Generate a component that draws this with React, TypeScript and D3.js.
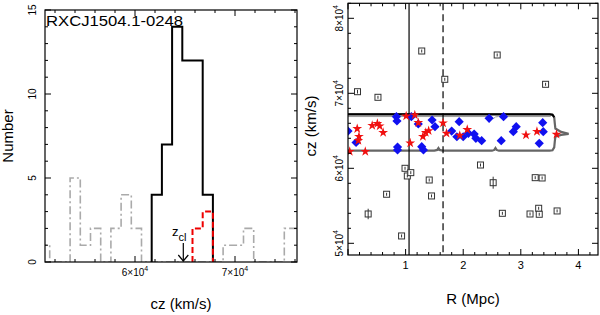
import React from 'react';
import * as d3 from 'd3';

// ---- left panel: velocity histograms ----
const binStart = 50450;
const binWidth = 1020;
const fieldCounts = [1, 0, 0, 5, 1, 2, 0, 2, 4, 2, 0, 0, 0, 0, 0, 0, 0, 0, 1, 1, 2, 0, 0, 0, 2, 2];
const memberFirstBin = 11;
const memberCounts = [4, 7, 14, 12, 12, 4];
const subFirstBin = 15;
const subCounts = [2, 3];
const zcl = 64830;
const histXMajor = [60000, 70000];
const histYMajor = [0, 5, 10, 15];

// ---- right panel: phase space ----
const blueR = [0.0, 0.14, 0.84, 0.85, 0.86, 0.86, 1.10, 1.22, 1.28, 1.31, 1.46, 1.51, 1.93, 1.80, 1.89, 2.00, 2.09, 2.19, 2.22, 2.32, 2.45, 2.70, 2.66, 2.87, 2.92, 3.32, 3.38, 3.39];
const blueCz = [64970, 63440, 66880, 66310, 62840, 62440, 66880, 65910, 62880, 62440, 66440, 65550, 66220, 64970, 64210, 64210, 64670, 64570, 64000, 63680, 66670, 66880, 63680, 64880, 65550, 63330, 66080, 64880];
const redR = [0.03, 0.30, 0.16, 0.19, 0.18, 0.42, 0.51, 0.55, 0.61, 1.01, 1.16, 1.22, 1.08, 1.30, 1.35, 1.40, 1.65, 1.71, 1.94, 2.07, 3.09, 3.28, 3.62];
const redCz = [62240, 62240, 65280, 64240, 63710, 65710, 65970, 65640, 64770, 66970, 67110, 66080, 63370, 64240, 64770, 65010, 66040, 64670, 64400, 65170, 64440, 64910, 64530];
const outR = [0.165, 0.52, 1.28, 1.68, 2.59, 3.43, 0.99, 1.03, 1.09, 1.41, 1.45, 0.67, 0.35, 0.93, 2.30, 2.52, 2.68, 3.16, 3.25, 3.37, 3.31, 3.32, 3.63];
const outCz = [70213, 69467, 75640, 71867, 75107, 71200, 60000, 58978, 59420, 58440, 56313, 56540, 53910, 50980, 60440, 58080, 54000, 53910, 58750, 58710, 54670, 53870, 54313];
const outErr = [250, 200, 200, 200, 200, 200, 200, 200, 200, 200, 200, 200, 700, 200, 200, 800, 200, 200, 200, 200, 200, 200, 200];

const causticR = [0, 1.50, 1.55, 1.57, 1.59, 1.64, 2.50, 2.54, 2.56, 2.58, 2.62, 3.50, 3.55, 3.58, 3.59, 3.60, 3.70, 3.83];
const causticUp = [67200, 67200, 67200, 67200, 67200, 67200, 67200, 67200, 67200, 67200, 67200, 67200, 67150, 66800, 66000, 65300, 64850, 64600];
const causticLow = [62350, 62350, 62450, 62700, 62450, 62350, 62350, 62450, 62700, 62450, 62350, 62350, 62400, 62800, 63600, 64200, 64450, 64600];
const innerR = [0, 2.45, 2.50, 2.53, 2.56, 2.61, 3.52];
const innerCz = [66900, 66900, 66850, 66650, 66850, 66900, 66900];
const rSolid = 1.06;
const rDashed = 1.65;
const phaseXMajor = [0, 1, 2, 3, 4];
const phaseYMajor = [50000, 60000, 70000, 80000];

const font = 'Liberation Sans, Arial, sans-serif';

const App = () => {
  // left panel scales
  const hx = d3.scaleLinear().domain([51000, 76200]).range([45, 297]);
  const hy = d3.scaleLinear().domain([0, 15]).range([262, 10]);
  // right panel scales
  const px = d3.scaleLinear().domain([0, 4.34]).range([348, 598]);
  const py = d3.scaleLinear().domain([48440, 82000]).range([255, 3.3]);

  const stepPath = (first: number, counts: number[]) => {
    const pts: [number, number][] = [[binStart + first * binWidth, 0]];
    counts.forEach((c, i) => {
      const lo = binStart + (first + i) * binWidth;
      pts.push([lo, c]);
      pts.push([lo + binWidth, c]);
    });
    pts.push([binStart + (first + counts.length) * binWidth, 0]);
    return d3.line<[number, number]>().x(d => hx(d[0])).y(d => hy(d[1]))(pts) || '';
  };

  const hxMinor = d3.range(52000, 76201, 2000);
  const hyMinor = d3.range(0, 16, 1);
  const pxMinor = d3.range(0, 4.35, 0.2);
  const pyMinor = d3.range(50000, 82001, 2000);

  const causticPts = causticR.map((r, i) => [r, causticUp[i]] as [number, number])
    .concat(causticR.map((r, i) => [r, causticLow[i]] as [number, number]).reverse());
  const pLine = d3.line<[number, number]>().x(d => px(d[0])).y(d => py(d[1]));
  const upperBlack = pLine(causticR.slice(0, 14).map((r, i) => [r, causticUp[i]]));
  const innerLine = pLine(innerR.map((r, i) => [r, innerCz[i]]));

  const star = d3.symbol(d3.symbolStar, 30)() || '';
  const diamond = 'M0,-4.6L4.6,0L0,4.6L-4.6,0Z';

  return (
    <svg width={600} height={315} style={{ position: 'absolute', left: 0, top: 0, background: '#fff' }} fontFamily={font}>
      <defs>
        <clipPath id="hclip"><rect x={45} y={10} width={252} height={252} /></clipPath>
        <clipPath id="pclip"><rect x={348} y={3.3} width={250} height={251.7} /></clipPath>
      </defs>

      {/* ===== left panel ===== */}
      <g clipPath="url(#hclip)">
        <path d={stepPath(0, fieldCounts)} fill="none" stroke="#aaa" strokeWidth={1.6} strokeDasharray="8,3,2,3" />
        <path d={stepPath(memberFirstBin, memberCounts)} fill="none" stroke="#000" strokeWidth={2} />
        <path d={stepPath(subFirstBin, subCounts)} fill="none" stroke="#e00" strokeWidth={2} strokeDasharray="6,3" />
      </g>
      <rect x={45} y={10} width={252} height={252} fill="none" stroke="#000" strokeWidth={1.2} />
      {hxMinor.map(v => (
        <g key={'hxm' + v} stroke="#000" strokeWidth={1}>
          <line x1={hx(v)} x2={hx(v)} y1={262} y2={histXMajor.includes(v) ? 256 : 259} />
          <line x1={hx(v)} x2={hx(v)} y1={10} y2={histXMajor.includes(v) ? 16 : 13} />
        </g>
      ))}
      {hyMinor.map(v => (
        <g key={'hym' + v} stroke="#000" strokeWidth={1}>
          <line x1={45} x2={histYMajor.includes(v) ? 51 : 48} y1={hy(v)} y2={hy(v)} />
          <line x1={297} x2={histYMajor.includes(v) ? 291 : 294} y1={hy(v)} y2={hy(v)} />
        </g>
      ))}
      {histXMajor.map(v => (
        <text key={'hxl' + v} x={hx(v)} y={276} fontSize={10} textAnchor="middle">
          {String(v / 10000)}×10<tspan fontSize={7} dy={-5}>4</tspan>
        </text>
      ))}
      {histYMajor.map(v => (
        <text key={'hyl' + v} transform={`translate(36,${hy(v)}) rotate(-90)`} fontSize={10} textAnchor="middle">{v}</text>
      ))}
      <text x={46} y={26} fontSize={15} textLength={137} lengthAdjust="spacingAndGlyphs">RXCJ1504.1-0248</text>
      <text transform="translate(13,136) rotate(-90)" fontSize={15} textAnchor="middle">Number</text>
      <text x={181} y={309} fontSize={15} textAnchor="middle">cz (km/s)</text>
      <text x={172} y={236} fontSize={13}>z<tspan fontSize={11} dy={5}>cl</tspan></text>
      <g stroke="#000" strokeWidth={1.2} fill="none">
        <line x1={hx(zcl)} x2={hx(zcl)} y1={243} y2={261} />
        <path d={`M${hx(zcl) - 5},${255}L${hx(zcl)},${261}L${hx(zcl) + 5},${255}`} />
      </g>

      {/* ===== right panel ===== */}
      <g clipPath="url(#pclip)">
        <path d={pLine(causticPts) || ''} fill="none" stroke="#666" strokeWidth={2.2} />
        <path d={innerLine || ''} fill="none" stroke="#999" strokeWidth={1} />
        <path d={upperBlack || ''} fill="none" stroke="#000" strokeWidth={2} />
        <line x1={px(rSolid)} x2={px(rSolid)} y1={3.3} y2={255} stroke="#000" strokeWidth={1.2} />
        <line x1={px(rDashed)} x2={px(rDashed)} y1={3.3} y2={255} stroke="#000" strokeWidth={1.2} strokeDasharray="7,4" />
        {outR.map((r, i) => (
          <g key={'o' + i} stroke="#333" fill="none" strokeWidth={1}>
            <rect x={px(r) - 3} y={py(outCz[i]) - 3} width={6} height={6} fill="#fff" />
            <line x1={px(r)} x2={px(r)} y1={py(outCz[i] + outErr[i])} y2={py(outCz[i] - outErr[i])} />
          </g>
        ))}
        {blueR.map((r, i) => (
          <path key={'b' + i} d={diamond} transform={`translate(${px(r)},${py(blueCz[i])})`} fill="#1010f0" />
        ))}
        {redR.map((r, i) => (
          <path key={'r' + i} d={star} transform={`translate(${px(r)},${py(redCz[i])})`} fill="#f01010" />
        ))}
      </g>
      <rect x={348} y={3.3} width={250} height={251.7} fill="none" stroke="#000" strokeWidth={1.2} />
      {pxMinor.map(v => {
        const major = phaseXMajor.some(m => Math.abs(m - v) < 1e-6);
        return (
          <g key={'pxm' + v} stroke="#000" strokeWidth={1}>
            <line x1={px(v)} x2={px(v)} y1={255} y2={major ? 249 : 252} />
            <line x1={px(v)} x2={px(v)} y1={3.3} y2={major ? 9.3 : 6.3} />
          </g>
        );
      })}
      {pyMinor.map(v => (
        <g key={'pym' + v} stroke="#000" strokeWidth={1}>
          <line x1={348} x2={phaseYMajor.includes(v) ? 354 : 351} y1={py(v)} y2={py(v)} />
          <line x1={598} x2={phaseYMajor.includes(v) ? 592 : 595} y1={py(v)} y2={py(v)} />
        </g>
      ))}
      {phaseXMajor.filter(v => v > 0).map(v => (
        <text key={'pxl' + v} x={px(v)} y={269} fontSize={11} textAnchor="middle">{v}</text>
      ))}
      {phaseYMajor.map(v => (
        <text key={'pyl' + v} transform={`translate(343,${py(v)}) rotate(-90)`} fontSize={10} textAnchor="middle">
          {String(v / 10000)}×10<tspan fontSize={7} dy={-5}>4</tspan>
        </text>
      ))}
      <text x={473} y={304} fontSize={15} textAnchor="middle">R (Mpc)</text>
      <text transform="translate(316,126) rotate(-90)" fontSize={15} textAnchor="middle">cz (km/s)</text>
    </svg>
  );
};

export default App;
